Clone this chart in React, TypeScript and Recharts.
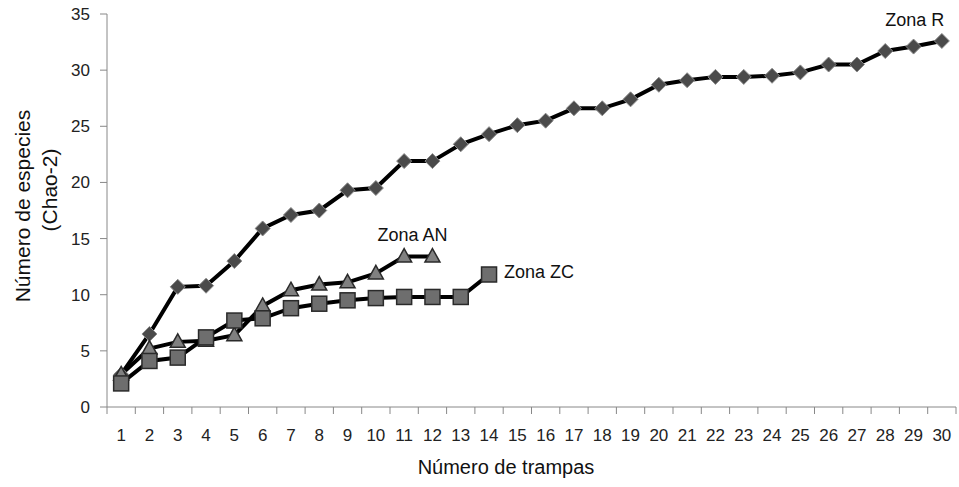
import React from 'react';
import { LineChart, Line, XAxis, YAxis } from 'recharts';

const categories = [1, 2, 3, 4, 5, 6, 7, 8, 9, 10, 11, 12, 13, 14, 15, 16, 17, 18, 19, 20, 21, 22, 23, 24, 25, 26, 27, 28, 29, 30];
const zonaR = [2.9, 6.5, 10.7, 10.8, 13.0, 15.9, 17.1, 17.5, 19.3, 19.5, 21.9, 21.9, 23.4, 24.3, 25.1, 25.5, 26.6, 26.6, 27.4, 28.7, 29.1, 29.4, 29.4, 29.5, 29.8, 30.5, 30.5, 31.7, 32.1, 32.6];
const zonaAN = [2.9, 5.2, 5.8, 5.9, 6.4, 9.0, 10.4, 10.9, 11.1, 11.9, 13.4, 13.4];
const zonaZC = [2.1, 4.1, 4.4, 6.2, 7.7, 7.9, 8.8, 9.2, 9.5, 9.7, 9.8, 9.8, 9.8, 11.8];
const yTicks = [0, 5, 10, 15, 20, 25, 30, 35];

const W = 959;
const H = 487;
const M_LEFT = 107;
const M_RIGHT = 3;
const PLOT_W = W - M_LEFT - M_RIGHT;
const BAND = PLOT_W / categories.length;
const FONT = '"Liberation Sans", Arial, sans-serif';

const rows = categories.map((c, i) => ({ x: c, r: zonaR[i], an: zonaAN[i], zc: zonaZC[i] }));
const halfTicks = [...categories.map((c) => c - 0.5), categories[categories.length - 1] + 0.5];

const renderXTick = (props: any) => {
  const { x, y, payload } = props;
  const label = payload.value + 0.5;
  if (label > categories[categories.length - 1]) return <g />;
  return (
    <text x={x + BAND / 2} y={y} dy="0.71em" textAnchor="middle" fontSize={17} fill="#222" fontFamily={FONT}>
      {label}
    </text>
  );
};

const diamond = (p: any) => {
  const { cx, cy, index } = p;
  if (cx == null || cy == null) return <g key={`d${index}`} />;
  const s = 7.5;
  return (
    <path key={`d${index}`} d={`M${cx},${cy - s}L${cx + s},${cy}L${cx},${cy + s}L${cx - s},${cy}Z`} fill="#4a4a4a" stroke="#8a8a8a" strokeWidth={1} />
  );
};
const square = (p: any) => {
  const { cx, cy, index } = p;
  if (cx == null || cy == null) return <g key={`s${index}`} />;
  const s = 7.5;
  return <rect key={`s${index}`} x={cx - s} y={cy - s} width={2 * s} height={2 * s} fill="#6e6e6e" stroke="#2a2a2a" strokeWidth={1.5} />;
};
const triangle = (p: any) => {
  const { cx, cy, index } = p;
  if (cx == null || cy == null) return <g key={`t${index}`} />;
  return (
    <path key={`t${index}`} d={`M${cx},${cy - 8}L${cx + 7.5},${cy + 5.5}L${cx - 7.5},${cy + 5.5}Z`} fill="#808080" stroke="#2a2a2a" strokeWidth={1.5} />
  );
};

const makeLabel = (text: string, target: number, dx: number, dy: number, anchor: string) => (p: any) => {
  const { x, y, index } = p;
  if (index !== target) return null;
  return (
    <text key={text} x={x + dx} y={y + dy} textAnchor={anchor} dominantBaseline="central" fontSize={18} fill="#111" fontFamily={FONT}>
      {text}
    </text>
  );
};

const yLabel = () => (
  <g>
    <text transform="translate(30,206) rotate(-90)" textAnchor="middle" fontSize={21} fill="#111" fontFamily={FONT}>
      Número de especies
    </text>
    <text transform="translate(57,190) rotate(-90)" textAnchor="middle" fontSize={21} fill="#111" fontFamily={FONT}>
      (Chao-2)
    </text>
  </g>
);

const xLabel = () => (
  <text x={506} y={474} textAnchor="middle" fontSize={20} fill="#111" fontFamily={FONT}>
    Número de trampas
  </text>
);

export default function App() {
  return (
    <div style={{ position: 'absolute', left: 0, top: 0, width: W, height: H, background: '#fff' }}>
      <LineChart width={W} height={H} data={rows} margin={{ top: 14, right: M_RIGHT, left: 0, bottom: 0 }}>
        <XAxis
          dataKey="x"
          type="number"
          domain={[0.5, 30.5]}
          ticks={halfTicks}
          interval={0}
          tick={renderXTick}
          tickSize={7}
          tickMargin={15}
          height={80}
          stroke="#888"
          label={xLabel}
        />
        <YAxis
          type="number"
          domain={[0, 35]}
          ticks={yTicks}
          interval={0}
          width={M_LEFT}
          tickSize={7}
          tickMargin={10}
          stroke="#888"
          tick={{ fontSize: 17, fill: '#222', fontFamily: FONT }}
          label={yLabel}
        />
        <Line dataKey="r" stroke="#000" strokeWidth={4} dot={diamond} isAnimationActive={false} label={makeLabel('Zona R', 29, -27, -21, 'middle')} />
        <Line dataKey="an" stroke="#000" strokeWidth={4} dot={triangle} isAnimationActive={false} label={makeLabel('Zona AN', 11, -20, -22, 'middle')} />
        <Line dataKey="zc" stroke="#000" strokeWidth={4} dot={square} isAnimationActive={false} label={makeLabel('Zona ZC', 13, 15, -3, 'start')} />
      </LineChart>
    </div>
  );
}
